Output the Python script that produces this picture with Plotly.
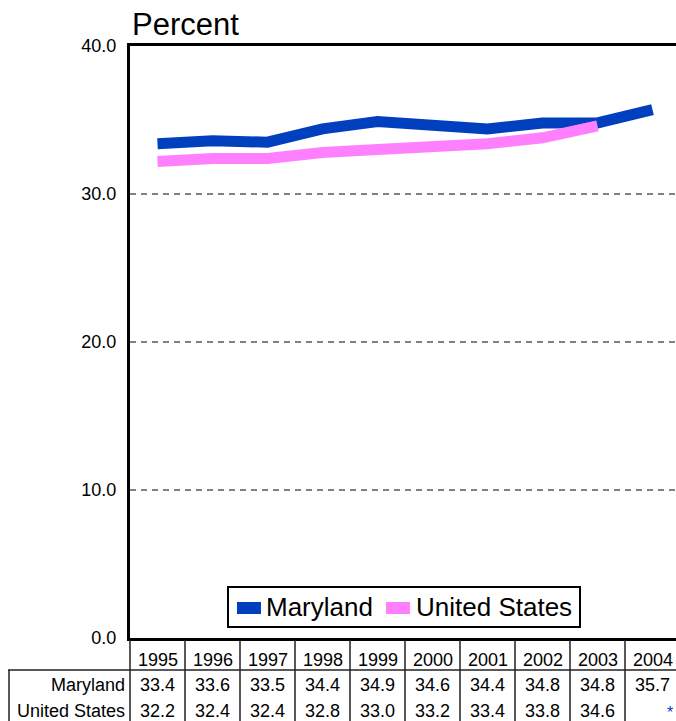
import plotly.graph_objects as go

years = [1995, 1996, 1997, 1998, 1999, 2000, 2001, 2002, 2003, 2004]
maryland = [33.4, 33.6, 33.5, 34.4, 34.9, 34.6, 34.4, 34.8, 34.8, 35.7]
united_states = [32.2, 32.4, 32.4, 32.8, 33.0, 33.2, 33.4, 33.8, 34.6, None]
series_names = ["Maryland", "United States"]
colors = ["#0040BF", "#FF80FF"]
y_ticks = [0, 10, 20, 30, 40]

W, H = 676, 721
L, T, B = 130, 46, 638      # plot edges in pixels
R = W
COL = 55
FONT = "Liberation Sans, Arial, sans-serif"


def px(x):
    return (x - L) / (R - L)


def py(y):
    return (B - y) / (B - T)


fig = go.Figure()
for name, vals, c in zip(series_names, [maryland, united_states], colors):
    fig.add_trace(go.Scatter(x=years, y=vals, mode="lines", name=name,
                             line=dict(color=c, width=11), showlegend=False))

x0 = years[0] - 0.5
fig.update_layout(
    width=W, height=H,
    margin=dict(l=L, r=0, t=T, b=H - B, pad=0),
    paper_bgcolor="white", plot_bgcolor="white",
    font=dict(family=FONT, color="black", size=18),
    xaxis=dict(range=[x0, x0 + (R - L) / COL], showticklabels=False, showgrid=False,
               zeroline=False, showline=True, linewidth=3, linecolor="black", mirror=True,
               fixedrange=True),
    yaxis=dict(range=[0, 40], tickvals=y_ticks, ticktext=[f"{v:.1f}" for v in y_ticks],
               showgrid=True, gridcolor="#808080", gridwidth=1.5, griddash="6px,5px",
               zeroline=False, showline=True, linewidth=3, linecolor="black", mirror=False,
               ticks="", ticklabelstandoff=7, tickfont=dict(size=18), fixedrange=True),
)

shapes = []
ann = []

# title
ann.append(dict(text="Percent", xref="paper", yref="paper", x=0, y=py(24),
                xanchor="left", yanchor="middle", showarrow=False,
                font=dict(size=31, family=FONT, color="black")))

# legend (manual)
shapes.append(dict(type="rect", xref="paper", yref="paper", x0=px(228), x1=px(580),
                   y0=py(587), y1=py(627), line=dict(color="black", width=2),
                   fillcolor="white", layer="above"))
leg_items = [(237, 261, 265), (386, 410, 415)]
for (a, b, tx), name, c in zip(leg_items, series_names, colors):
    shapes.append(dict(type="rect", xref="paper", yref="paper", x0=px(a), x1=px(b),
                       y0=py(602), y1=py(614), line=dict(width=0), fillcolor=c, layer="above"))
    ann.append(dict(text=name, xref="paper", yref="paper", x=px(tx - 1), y=py(607),
                    xanchor="left", yanchor="middle", showarrow=False,
                    font=dict(size=26, family=FONT, color="black")))

# data table grid
line_c = "#222222"
shapes.append(dict(type="line", xref="paper", yref="paper", x0=px(8), x1=px(W + 10),
                   y0=py(670), y1=py(670), line=dict(color=line_c, width=1.5)))
shapes.append(dict(type="line", xref="paper", yref="paper", x0=px(9), x1=px(9),
                   y0=py(670), y1=py(H + 5), line=dict(color=line_c, width=1.5)))
for k in range(len(years) + 1):
    xx = L + k * COL
    shapes.append(dict(type="line", xref="paper", yref="paper", x0=px(xx), x1=px(xx),
                       y0=py(640), y1=py(H + 5), line=dict(color=line_c, width=1.5)))

# table text
for yr in years:
    ann.append(dict(text=str(yr), xref="x", yref="paper", x=yr, y=py(660),
                    xanchor="center", yanchor="middle", showarrow=False,
                    font=dict(size=18, family=FONT, color="black")))
for row_y, name, vals in [(685, "Maryland", maryland), (711, "United States", united_states)]:
    ann.append(dict(text=name, xref="paper", yref="paper", x=px(127), y=py(row_y),
                    xanchor="right", yanchor="middle", showarrow=False,
                    font=dict(size=18, family=FONT, color="black")))
    for yr, v in zip(years, vals):
        if v is None:
            ann.append(dict(text="*", xref="paper", yref="paper", x=1, y=py(row_y + 1),
                            xanchor="right", yanchor="middle", showarrow=False, xshift=-1,
                            font=dict(size=16, family=FONT, color="#0040BF")))
        else:
            ann.append(dict(text=f"{v:.1f}", xref="x", yref="paper", x=yr, y=py(row_y),
                            xanchor="center", yanchor="middle", showarrow=False,
                            font=dict(size=18, family=FONT, color="black")))

fig.update_layout(shapes=shapes, annotations=ann)
fig.write_html(
    "out.html",
    config={"displayModeBar": False},
    post_script="document.body.style.margin='0';document.body.style.overflow='hidden';",
)
